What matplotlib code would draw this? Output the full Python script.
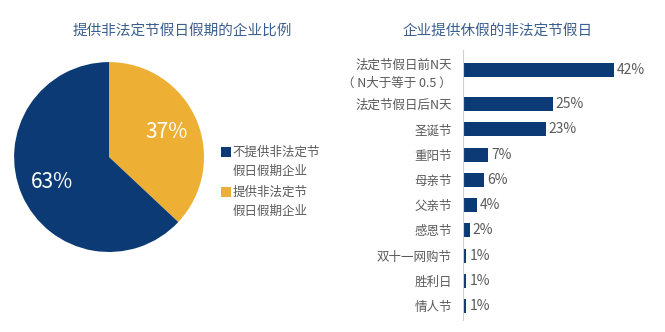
import numpy as np
import matplotlib.pyplot as plt
from matplotlib.patches import Rectangle

plt.rcParams['font.family'] = ['Noto Sans CJK SC', 'DejaVu Sans']

# share of companies offering non-statutory holidays
pie_labels = ['不提供非法定节\n假日假期企业', '提供非法定节\n假日假期企业']
pie_values = [63, 37]

# non-statutory holidays offered
holidays = ['法定节假日前N天\n（ N大于等于 0.5 ）', '法定节假日后N天', '圣诞节', '重阳节', '母亲节',
            '父亲节', '感恩节', '双十一网购节', '胜利日', '情人节']
holiday_pct = [42, 25, 23, 7, 6, 4, 2, 1, 1, 1]

navy = '#0b3a74'
gold = '#edb035'
title_color = '#3b5f8f'
text_gray = '#5a5a5a'

fig = plt.figure(figsize=(6.65, 3.32), dpi=100)

# pie chart
ax1 = fig.add_axes([0.021, 0.241, 0.286, 0.572])
wedges, _, autotexts = ax1.pie(pie_values[::-1], colors=[gold, navy], startangle=90,
                               counterclock=False, autopct='%d%%', pctdistance=0.66,
                               textprops=dict(color='white', fontsize=15, fontweight='light'))
ax1.set_xlim(-1, 1)
ax1.set_ylim(-1, 1)
ax1.set_aspect('equal')
fig.text(0.274, 0.903, '提供非法定节假日假期的企业比例', ha='center', va='center',
         fontsize=10.5, color=title_color)

# legend: square marker beside the first line of each two-line label
for i, (lab, col) in enumerate(zip(pie_labels, [navy, gold])):
    y0 = 0.542 - i * 0.1205
    fig.patches.append(Rectangle((0.3323, y0 - 0.015), 0.015, 0.030, facecolor=col,
                                 transform=fig.transFigure, figure=fig))
    fig.text(0.350, y0 - 0.030, lab, ha='left', va='center', fontsize=9,
             color=text_gray, linespacing=1.65)

# horizontal bar chart
ax2 = fig.add_axes([0.696, 0.036, 0.266, 0.813])
ypos = np.arange(len(holidays)) + np.where(np.arange(len(holidays)) > 0, 0.35, 0.0)
ax2.barh(ypos, holiday_pct, height=0.55, color=navy)
ax2.set_ylim(9.9, -0.79)
ax2.set_xlim(0, 49.2)
ax2.set_yticks(ypos)
ax2.set_yticklabels(holidays, fontsize=9, color=text_gray, linespacing=1.5)
ax2.tick_params(axis='y', length=0, pad=8)
ax2.set_xticks([])
for side in ['top', 'right', 'bottom']:
    ax2.spines[side].set_visible(False)
ax2.spines['left'].set_color('#d0d0d0')
for y, v in zip(ypos, holiday_pct):
    ax2.text(v + 0.8, y, f'{v}%', va='center', ha='left', fontsize=10, color=text_gray)
fig.text(0.749, 0.903, '企业提供休假的非法定节假日', ha='center', va='center',
         fontsize=10.5, color=title_color)

fig.savefig('out.png', dpi=100)
